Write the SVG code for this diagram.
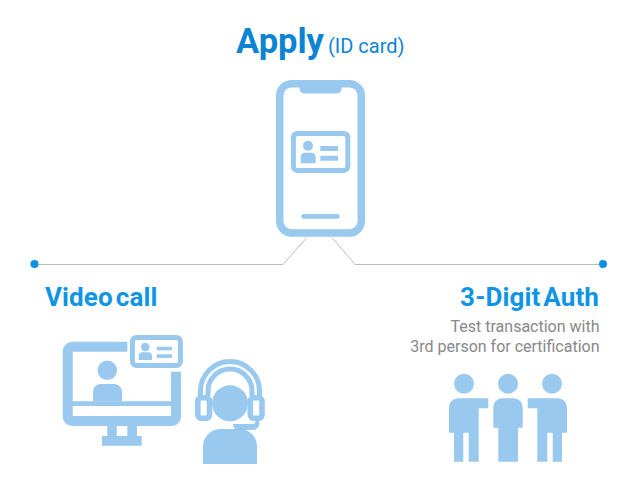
<svg xmlns="http://www.w3.org/2000/svg" width="640" height="500" viewBox="0 0 640 500">
<style>
.i{fill:#99c9ee}
.w{fill:#fff}
.o{fill:none;stroke:#99c9ee}
text{font-family:Roboto,"Liberation Sans",sans-serif}
.h{font-weight:700;font-size:26px;fill:#0f94e6;letter-spacing:.1px;word-spacing:-3.500px}
.s{font-size:16px;fill:#888;text-anchor:end}
.c{fill:none;stroke:#bbb;stroke-width:1}
.d{fill:#0f8fe4}
</style>
<rect width="640" height="500" fill="#fff"/>
<g id="connectors">
<path class="c" d="M34 264.500H283L307 237.500"/>
<path class="c" d="M332 237.500L355 264.500H603"/>
<circle class="d" cx="34.500" cy="264" r="4"/>
<circle class="d" cx="603" cy="264" r="4"/>
</g>
<g id="apply">
<text x="236" y="53" font-size="34.500" font-weight="700" fill="#0b85d3">Apply</text>
<text x="328" y="53" font-size="20" fill="#0b85d3">(ID card)</text>
<rect class="o" x="279.700" y="83.700" width="81.600" height="149.300" rx="12" stroke-width="7.500"/>
<path class="i" d="M299.500 87H341.700V88C341.700 91.500 339.500 93.500 336 93.500H305C301.500 93.500 299.500 91.500 299.500 88Z"/>
<rect class="o" x="293.400" y="133.400" width="54.400" height="37" rx="4" stroke-width="5"/>
<circle class="i" cx="308" cy="145.700" r="5"/>
<path class="i" d="M300.700 163.300V157C300.700 154 303 152.700 305 152.700H311C314 152.700 315.700 154.500 315.700 157V163.300Z"/>
<rect class="i" x="320.300" y="146" width="17.700" height="5"/>
<rect class="i" x="320.300" y="155.700" width="17.700" height="5"/>
<rect class="i" x="301.300" y="214" width="38.400" height="4.700" rx="2.350"/>
</g>
<g id="video-call">
<text class="h" x="45" y="306">Video call</text>
<path class="i" d="M127.300 341.700H73C67 341.700 62.700 346 62.700 352V416C62.700 422 67 426 73 426H171C177 426 181 422 181 416V371.700H171V401.300H72.700V351.700H127.300ZM72.700 406H171V416H72.700Z" fill-rule="evenodd"/>
<path class="i" d="M107.300 426H116.700V436H127.300V426H137V436H141.700V445.700H102V436H107.300Z"/>
<circle class="i" cx="107.300" cy="370.300" r="9.700"/>
<path class="i" d="M93 401.300V392C93 387 97 384 101 384H114C118 384 122 387 122 392V401.300Z"/>
<rect class="o" x="132.400" y="337.400" width="48" height="28" rx="4" stroke-width="5"/>
<circle class="i" cx="145.300" cy="347" r="4.300"/>
<path class="i" d="M138.700 360V356C138.700 353.500 140.500 352.300 142.500 352.300H148C150.500 352.300 152 354 152 356V360Z"/>
<rect class="i" x="156.700" y="346.700" width="15.300" height="3.600"/>
<rect class="i" x="156.700" y="354.300" width="15.300" height="3.600"/>
</g>
<g id="agent">
<path class="o" d="M200.500 396V391A29.500 29.500 0 0 1 259.500 391V396" stroke-width="5"/>
<path class="o" d="M208 396V391A22 22 0 0 1 252 391V396" stroke-width="5"/>
<rect class="o" x="197.800" y="397.800" width="11.700" height="20.400" rx="3.500" stroke-width="5.600"/>
<rect class="o" x="250.300" y="397.800" width="11.700" height="20.400" rx="3.500" stroke-width="5.600"/>
<circle class="i" cx="230" cy="403.300" r="18"/>
<path class="i" d="M232.700 424H253C254.500 424 255.300 423 255.300 421.500V420H259.300V423C259.300 427.500 256.500 430 253 430H238C235 430 233.500 427 232.700 424Z"/>
<path class="i" d="M203 464V447C203 436 211 429 221 429H239C249 429 257 436 257 447V464Z"/>
</g>
<g id="digit-auth">
<text class="h" x="599" y="306" text-anchor="end">3-Digit Auth</text>
<text class="s" x="599.500" y="332">Test transaction with</text>
<text class="s" x="599.500" y="352">3rd person for certification</text>
<circle class="i" cx="464" cy="383.700" r="10"/>
<circle class="i" cx="508" cy="383.700" r="10"/>
<circle class="i" cx="552" cy="383.700" r="10"/>
<path class="i" d="M449 432.700V408.300C449 402 453 398.300 459 398.300H488.300V408.300H478.700V461.700H468.700V432.700H463.300V461.700H454V432.700Z"/>
<path class="i" d="M493.300 427.700V408.300C493.300 402 497 398.300 503 398.300H513C519 398.300 522.700 402 522.700 408.300V427.700H518V461.700H498.300V427.700Z"/>
<path class="i" d="M567 432.700V408.300C567 402 563 398.300 557 398.300H527.700V408.300H537.300V461.700H547.300V432.700H552.700V461.700H562V432.700Z"/>
</g>
</svg>
